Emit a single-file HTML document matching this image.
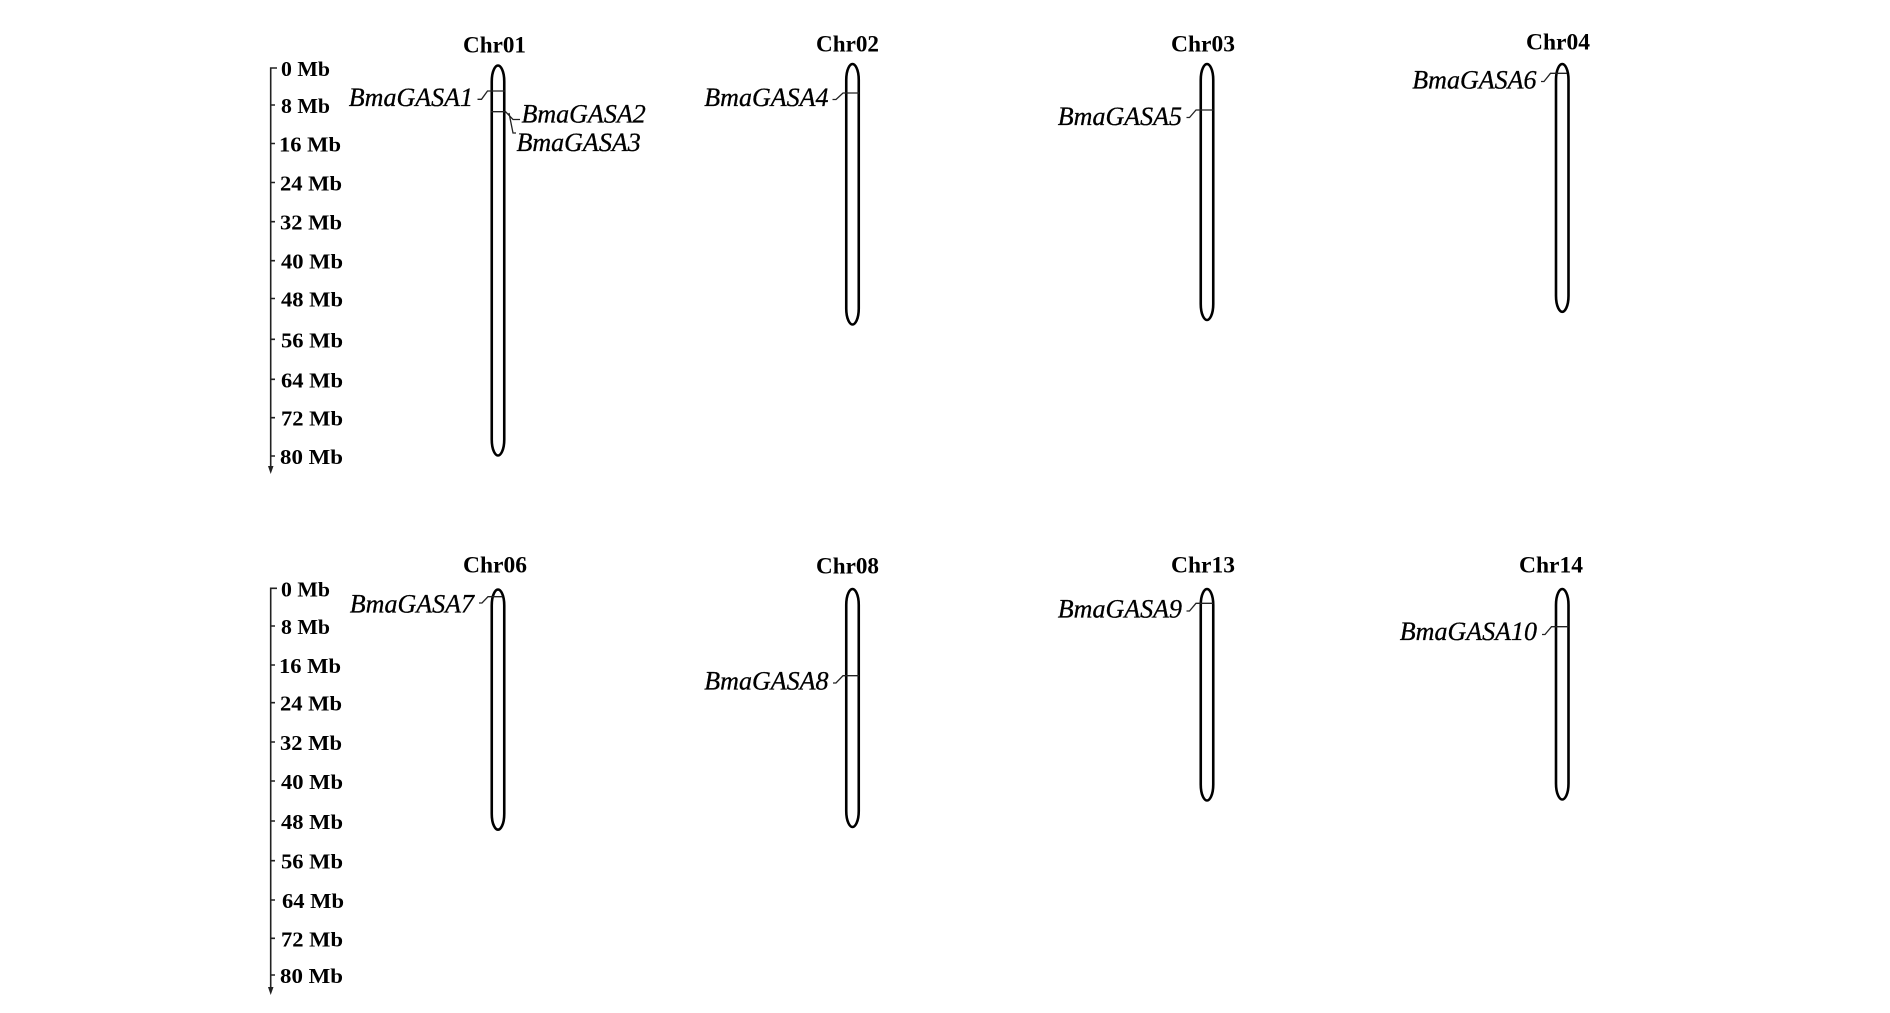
<!DOCTYPE html>
<html><head><meta charset="utf-8"><style>
html,body{margin:0;padding:0;background:#fff;}
svg{display:block;}
.chr{font-family:"Liberation Serif",serif;font-weight:bold;font-size:23.5px;fill:#000;}
.tk{font-family:"Liberation Serif",serif;font-weight:bold;font-size:21px;fill:#000;}
.g{font-family:"Liberation Serif",serif;font-style:italic;font-size:26px;fill:#000;stroke:#000;stroke-width:0.3;}
.c{fill:#fff;stroke:#000;stroke-width:2.6;}
.gl{stroke:#222;stroke-width:1.3;fill:none;}
.ax{stroke:#222;stroke-width:1.6;fill:none;}
</style></head><body>
<svg width="1890" height="1013" viewBox="0 0 1890 1013" xmlns="http://www.w3.org/2000/svg">
<!-- Axis top -->
<path class="ax" d="M277 68 H270.7 V467"/>
<polygon points="268,466 273.5,466 270.7,474" fill="#222"/>
<g class="ax">
<path d="M271 105H275M271 143.5H275M271 182.5H275M271 221.7H275M271 260.7H275M271 298.5H275M271 339.3H275M271 379.3H275M271 417.7H275M271 456H275"/>
</g>
<g class="tk">
<text x="281" y="76" textLength="49" lengthAdjust="spacingAndGlyphs">0 Mb</text>
<text x="281" y="113" textLength="49" lengthAdjust="spacingAndGlyphs">8 Mb</text>
<text x="279" y="151.5" textLength="62" lengthAdjust="spacingAndGlyphs">16 Mb</text>
<text x="280" y="190.5" textLength="62" lengthAdjust="spacingAndGlyphs">24 Mb</text>
<text x="280" y="229.7" textLength="62" lengthAdjust="spacingAndGlyphs">32 Mb</text>
<text x="281" y="268.7" textLength="62" lengthAdjust="spacingAndGlyphs">40 Mb</text>
<text x="281" y="306.5" textLength="62" lengthAdjust="spacingAndGlyphs">48 Mb</text>
<text x="281" y="347.3" textLength="62" lengthAdjust="spacingAndGlyphs">56 Mb</text>
<text x="281" y="387.3" textLength="62" lengthAdjust="spacingAndGlyphs">64 Mb</text>
<text x="281" y="425.7" textLength="62" lengthAdjust="spacingAndGlyphs">72 Mb</text>
<text x="280" y="464" textLength="63" lengthAdjust="spacingAndGlyphs">80 Mb</text>
</g>

<!-- Axis bottom -->
<path class="ax" d="M277 588.3 H270.7 V988"/>
<polygon points="268,987 273.5,987 270.7,995" fill="#222"/>
<g class="ax">
<path d="M271 626H275M271 665H275M271 702.7H275M271 742H275M271 781H275M271 821H275M271 860.7H275M271 900H275M271 938.3H275M271 975H275"/>
</g>
<g class="tk">
<text x="281" y="596.3" textLength="49" lengthAdjust="spacingAndGlyphs">0 Mb</text>
<text x="281" y="634" textLength="49" lengthAdjust="spacingAndGlyphs">8 Mb</text>
<text x="279" y="673" textLength="62" lengthAdjust="spacingAndGlyphs">16 Mb</text>
<text x="280" y="710.7" textLength="62" lengthAdjust="spacingAndGlyphs">24 Mb</text>
<text x="280" y="750" textLength="62" lengthAdjust="spacingAndGlyphs">32 Mb</text>
<text x="281" y="789" textLength="62" lengthAdjust="spacingAndGlyphs">40 Mb</text>
<text x="281" y="829" textLength="62" lengthAdjust="spacingAndGlyphs">48 Mb</text>
<text x="281" y="868.7" textLength="62" lengthAdjust="spacingAndGlyphs">56 Mb</text>
<text x="282" y="908" textLength="62" lengthAdjust="spacingAndGlyphs">64 Mb</text>
<text x="281" y="946.3" textLength="62" lengthAdjust="spacingAndGlyphs">72 Mb</text>
<text x="280" y="983" textLength="63" lengthAdjust="spacingAndGlyphs">80 Mb</text>
</g>

<!-- Chromosome labels -->
<g class="chr">
<text x="463" y="52.7" textLength="63" lengthAdjust="spacingAndGlyphs">Chr01</text>
<text x="816" y="51.7" textLength="63" lengthAdjust="spacingAndGlyphs">Chr02</text>
<text x="1171" y="51.7" textLength="64" lengthAdjust="spacingAndGlyphs">Chr03</text>
<text x="1526" y="49.3" textLength="64" lengthAdjust="spacingAndGlyphs">Chr04</text>
<text x="463" y="572.7" textLength="64" lengthAdjust="spacingAndGlyphs">Chr06</text>
<text x="816" y="573.3" textLength="63" lengthAdjust="spacingAndGlyphs">Chr08</text>
<text x="1171" y="572.7" textLength="64" lengthAdjust="spacingAndGlyphs">Chr13</text>
<text x="1519" y="572.7" textLength="64" lengthAdjust="spacingAndGlyphs">Chr14</text>
</g>

<!-- Chromosomes -->
<path class="c" d="M491.75 81.5 C491.75 70.5 495.5 65.5 498 65.5 C500.5 65.5 504.25 70.5 504.25 81.5 V439.5 C504.25 450.5 500.5 455.5 498 455.5 C495.5 455.5 491.75 450.5 491.75 439.5 Z"/>
<path class="c" d="M846.25 80 C846.25 69 850 64 852.5 64 C855 64 858.75 69 858.75 80 V308.5 C858.75 319.5 855 324.5 852.5 324.5 C850 324.5 846.25 319.5 846.25 308.5 Z"/>
<path class="c" d="M1200.75 80 C1200.75 69 1204.5 64 1207 64 C1209.5 64 1213.25 69 1213.25 80 V304 C1213.25 315 1209.5 320 1207 320 C1204.5 320 1200.75 315 1200.75 304 Z"/>
<path class="c" d="M1556 80 C1556 69 1559.75 64 1562.25 64 C1564.75 64 1568.5 69 1568.5 80 V295.8 C1568.5 306.8 1564.75 311.8 1562.25 311.8 C1559.75 311.8 1556 306.8 1556 295.8 Z"/>
<path class="c" d="M491.75 605.5 C491.75 594.5 495.5 589.5 498 589.5 C500.5 589.5 504.25 594.5 504.25 605.5 V813.7 C504.25 824.7 500.5 829.7 498 829.7 C495.5 829.7 491.75 824.7 491.75 813.7 Z"/>
<path class="c" d="M846.25 605 C846.25 594 850 589 852.5 589 C855 589 858.75 594 858.75 605 V811 C858.75 822 855 827 852.5 827 C850 827 846.25 822 846.25 811 Z"/>
<path class="c" d="M1200.75 605 C1200.75 594 1204.5 589 1207 589 C1209.5 589 1213.25 594 1213.25 605 V784.5 C1213.25 795.5 1209.5 800.5 1207 800.5 C1204.5 800.5 1200.75 795.5 1200.75 784.5 Z"/>
<path class="c" d="M1556 605 C1556 594 1559.75 589 1562.25 589 C1564.75 589 1568.5 594 1568.5 605 V783.5 C1568.5 794.5 1564.75 799.5 1562.25 799.5 C1559.75 799.5 1556 794.5 1556 783.5 Z"/>

<!-- Gene lines and leaders -->
<g class="gl">
<path d="M477.5 99.3 H481.5 L487.5 91 H505"/>
<path d="M491 111.7 H505.5 L513 119.5 H520"/>
<path d="M509 113 L513 133 H516"/>
<path d="M832.5 99.5 H836 L843 93 H859"/>
<path d="M1186.5 117.5 H1189.5 L1196 110 H1213.5"/>
<path d="M1541 81.5 H1544 L1550.5 73.3 H1567"/>
<path d="M479 603 H482 L488 596.7 H502.5"/>
<path d="M833 683 H836 L843 675.7 H859"/>
<path d="M1186.5 611 H1189.5 L1196 603.3 H1213"/>
<path d="M1542 634.5 H1545 L1551.5 626.7 H1568.5"/>
</g>

<!-- Gene labels -->
<g class="g">
<text x="473" y="106" text-anchor="end">BmaGASA1</text>
<text x="521.5" y="122.7">BmaGASA2</text>
<text x="516.5" y="151">BmaGASA3</text>
<text x="828.5" y="106" text-anchor="end">BmaGASA4</text>
<text x="1182" y="125" text-anchor="end">BmaGASA5</text>
<text x="1536.5" y="88.3" text-anchor="end">BmaGASA6</text>
<text x="474" y="612.7" text-anchor="end">BmaGASA7</text>
<text x="828.5" y="689.3" text-anchor="end">BmaGASA8</text>
<text x="1182" y="617.7" text-anchor="end">BmaGASA9</text>
<text x="1537" y="640" text-anchor="end">BmaGASA10</text>
</g>
</svg>
</body></html>
